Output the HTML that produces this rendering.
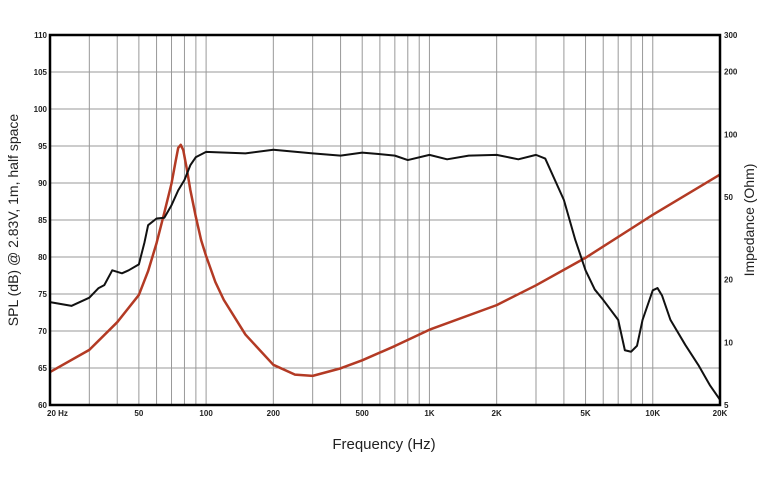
<!DOCTYPE html>
<html><head><meta charset="utf-8"><style>
body{margin:0;background:#fff}
svg{display:block;font-family:"Liberation Sans",sans-serif}
</style></head><body>
<svg id="chart" width="767" height="484" viewBox="0 0 767 484">
<g id="grid"></g>
<g id="series"></g>
<rect x="50" y="35" width="670" height="370" fill="none" stroke="#000" stroke-width="2.5"/>
<g id="labels" font-size="8" font-weight="bold" fill="#222"></g>
<text x="384" y="449" font-size="15" text-anchor="middle" fill="#222">Frequency (Hz)</text>
<text transform="translate(18,220) rotate(-90)" font-size="14" text-anchor="middle" fill="#222">SPL (dB) @ 2.83V, 1m, half space</text>
<text transform="translate(754,220) rotate(-90)" font-size="14" text-anchor="middle" fill="#222">Impedance (Ohm)</text>
</svg>
<script>
const splFreq=[20,25,30,33,35,38,42,45,50,53,55,60,65,70,75,80,85,90,100,150,200,300,400,500,600,700,800,1000,1200,1500,2000,2500,3000,3300,4000,4500,5000,5500,6000,7000,7500,8000,8500,9000,10000,10500,11000,12000,14000,16000,18000,20000];
const splDb=[73.9,73.4,74.5,75.8,76.2,78.2,77.8,78.2,79,82,84.3,85.2,85.3,87,89,90.4,92.4,93.5,94.2,94,94.5,94,93.7,94.1,93.9,93.7,93.1,93.8,93.2,93.7,93.8,93.2,93.8,93.3,87.7,82.3,78.2,75.6,74.2,71.5,67.4,67.2,68,71.5,75.5,75.8,74.8,71.5,68.1,65.4,62.7,60.7];
const impFreq=[20,30,40,50,55,60,65,70,73,75,77,79,82,85,90,95,100,110,120,150,200,250,300,400,500,700,1000,2000,3000,5000,10000,20000];
const impOhm=[7.2,9.2,12.5,16.9,22,30,42,58,74,86,89,84,68,54,40,31,26,19.5,16,10.9,7.8,7,6.9,7.5,8.2,9.6,11.5,15.1,18.8,25.5,41,64];
const splTicks=[60,65,70,75,80,85,90,95,100,105,110];
const impTicks=[5,10,20,50,100,200,300];
const xTickVals=[20,50,100,200,500,1000,2000,5000,10000,20000];
const xTickText=["20  Hz","50","100","200","500","1K","2K","5K","10K","20K"];
const L=50,R=720,T=35,B=405,NS="http://www.w3.org/2000/svg";
const x=f=>L+(Math.log10(f)-Math.log10(20))/3*(R-L);
const y=d=>B-(d-60)/50*(B-T);
const y2=o=>B-(Math.log10(o)-Math.log10(5))/Math.log10(60)*(B-T);
function mk(tag,at,parent){const e=document.createElementNS(NS,tag);for(const k in at)e.setAttribute(k,at[k]);document.getElementById(parent).appendChild(e);return e;}
const grid=[];for(let d=1;d<=1000;d*=10)for(let m=1;m<10;m++){const f=m*d*10;if(f>20&&f<20000)grid.push(f);}
grid.forEach(f=>{const l=mk('line',{x1:x(f),x2:x(f),y1:T,y2:B,stroke:'#999','stroke-width':1},'grid');

});
splTicks.forEach(d=>{const l=mk('line',{x1:L,x2:R,y1:y(d),y2:y(d),stroke:'#999','stroke-width':1},'grid');


const t=mk('text',{x:L-3,y:y(d)+3,'text-anchor':'end'},'labels');t.textContent=d;

});
impTicks.forEach(o=>{const t=mk('text',{x:R+4,y:y2(o)+3},'labels');t.textContent=o;

});
xTickVals.forEach((f,i)=>{const t=mk('text',{x:i==0?x(f)-3:x(f),y:B+11,'text-anchor':i==0?'start':'middle'},'labels');t.textContent=xTickText[i];

});
const p1=mk('polyline',{points:impFreq.map((f,i)=>x(f)+','+y2(impOhm[i])).join(' '),fill:'none',stroke:'#b33a24','stroke-width':2.5,'stroke-linejoin':'round'},'series');


const p2=mk('polyline',{points:splFreq.map((f,i)=>x(f)+','+y(splDb[i])).join(' '),fill:'none',stroke:'#111','stroke-width':2,'stroke-linejoin':'round'},'series');


</script>
</body></html>
